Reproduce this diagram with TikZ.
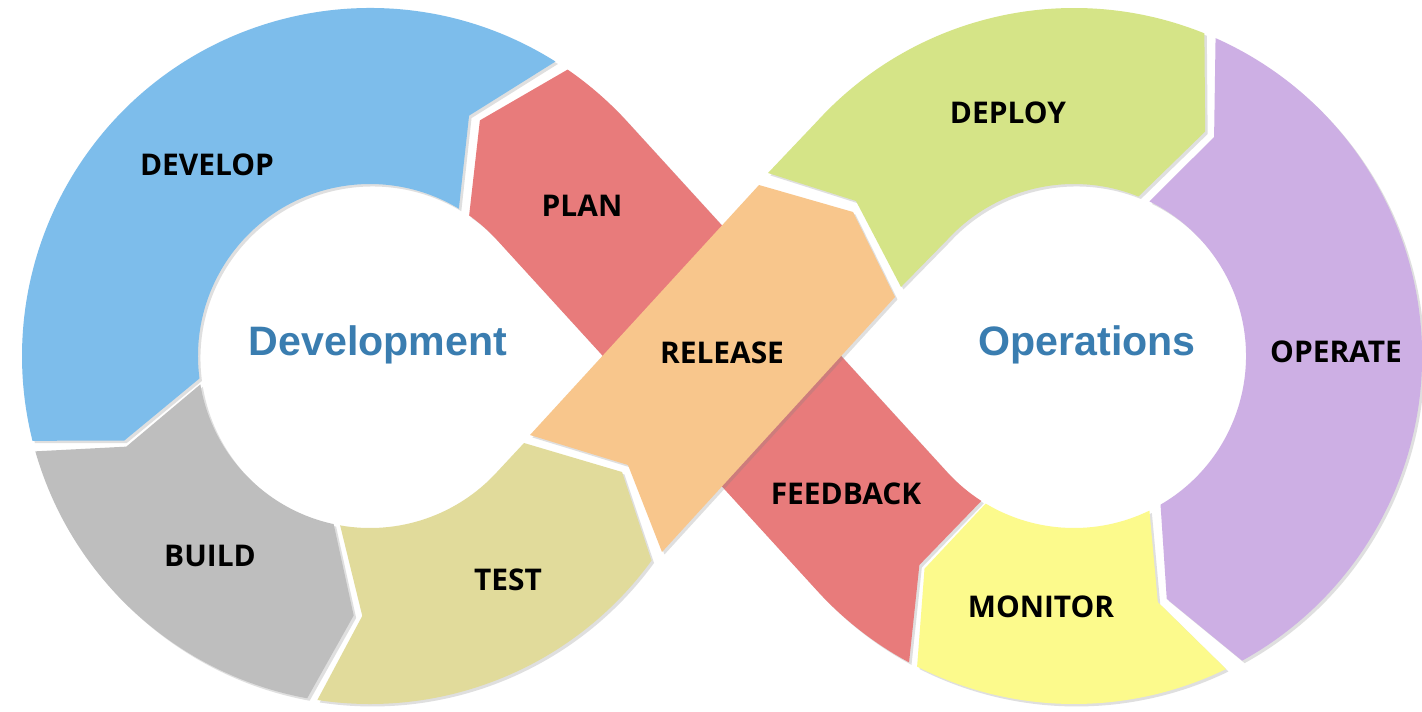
\documentclass[tikz,border=0pt]{standalone}
\usepackage{fontspec}
\setmainfont{Open Sans}
\newfontfamily\titlefont{Liberation Sans}
\usetikzlibrary{calc,shadows}
\definecolor{developblue}{RGB}{125,189,235}
\definecolor{planred}{RGB}{232,123,123}
\definecolor{releaseorange}{RGB}{248,198,140}
\definecolor{deploygreen}{RGB}{213,228,135}
\definecolor{operatepurple}{RGB}{205,175,228}
\definecolor{monitoryellow}{RGB}{252,250,140}
\definecolor{testkhaki}{RGB}{225,219,155}
\definecolor{buildgray}{RGB}{190,190,190}
\definecolor{ringtitle}{RGB}{58,125,176}
\newcommand\outR{348}
\newcommand\inR{172}
\newcommand\midR{260}

\begin{document}
\begin{tikzpicture}[x=0.01cm,y=0.01cm,
			part/.style={drop shadow={shadow xshift=0.7pt,shadow yshift=-0.7pt,opacity=0.25}},
			stage/.style={font=\bfseries\fontsize{8.5}{10}\selectfont,text=black},
			ring title/.style={font=\titlefont\bfseries\fontsize{11.7}{14}\selectfont,text=ringtitle}]
			
			\fill[white] (0,0) rectangle (1422,711);
			\useasboundingbox (0,0) rectangle (1422,711);
			\coordinate (C1) at (370,355);
			\coordinate (C2) at (1074,355);
			
			% left ring
			\fill[developblue,part] ($(C1)+(57.8:\outR)$) arc[start angle=57.8,end angle=194.1,radius=\outR]
			-- ($(C1)+(199:\midR)$) -- ($(C1)+(187.5:\inR)$) arc[start angle=187.5,end angle=58.9,radius=\inR]
			-- ($(C1)+(67.6:\midR)$) -- cycle;
			\fill[buildgray,part] ($(C1)+(195.9:\outR)$) arc[start angle=195.9,end angle=259.6,radius=\outR]
			-- ($(C1)+(266.4:\midR)$) -- ($(C1)+(257.8:\inR)$) arc[start angle=257.8,end angle=189.5,radius=\inR]
			-- ($(C1)+(200.4:\midR)$) -- cycle;
			\fill[testkhaki,part] ($(C1)+(261.3:\outR)$) arc[start angle=261.3,end angle=324,radius=\outR]
			-- (622,239) -- (524,268) -- ($(C1)+(317.61:\inR)$) arc[start angle=317.61,end angle=260,radius=\inR]
			-- ($(C1)+(268.3:\midR)$) -- cycle;
			
			% plan and feedback band
			\fill[planred,part] ($(C1)+(55.4:\outR)$) arc[start angle=55.4,end angle=42.39,radius=\outR]
			-- ($(C2)+(222.39:\inR)$) arc[start angle=222.39,end angle=237.4,radius=\inR]
			-- ($(C2)+(233.5:\midR)$) -- ($(C2)+(241.7:\outR)$) arc[start angle=241.7,end angle=222.39,radius=\outR]
			-- ($(C1)+(42.39:\inR)$) arc[start angle=42.39,end angle=54.8,radius=\inR]
			-- ($(C1)+(65:\midR)$) -- cycle;
			
			% release band
			\fill[releaseorange,part] (530,276) -- (759,526) -- (853,499) -- (895,414) -- (662,159) -- (628,246) -- cycle;
			
			% right ring
			\fill[deploygreen,part] (768,538) -- ($(C2)+(137.61:\outR)$) arc[start angle=137.61,end angle=68,radius=\outR]
			-- ($(C2)+(59.7:\midR)$) -- ($(C2)+(68:\inR)$) arc[start angle=68,end angle=137.61,radius=\inR]
			-- (901,424) -- (856,510) -- cycle;
			\fill[operatepurple,part] ($(C2)+(66:\outR)$) arc[start angle=66,end angle=-61.1,radius=\outR]
			-- ($(C2)+(-69.1:\midR)$) -- ($(C2)+(-59.8:\inR)$) arc[start angle=-59.8,end angle=64,radius=\inR]
			-- ($(C2)+(57.4:\midR)$) -- cycle;
			\fill[monitoryellow,part] ($(C2)+(-64.1:\outR)$) arc[start angle=-64.1,end angle=-116.8,radius=\outR]
			-- ($(C2)+(-125.1:\midR)$) -- ($(C2)+(-120.9:\inR)$) arc[start angle=-120.9,end angle=-64,radius=\inR]
			-- ($(C2)+(-71.2:\midR)$) -- cycle;
			
			\node (develop) [stage] at (207,546) {DEVELOP};
			\node (plan) [stage] at (582,505) {PLAN};
			\node (build) [stage] at (210,155) {BUILD};
			\node (test) [stage] at (508,131) {TEST};
			\node (release) [stage] at (722,358) {RELEASE};
			\node (feedback) [stage] at (846,217) {FEEDBACK};
			\node (deploy) [stage] at (1008,598) {DEPLOY};
			\node (operate) [stage] at (1336,359) {OPERATE};
			\node (monitor) [stage] at (1041,104) {MONITOR};
			\node (development) [ring title] at (378,366) {Development};
			\node (operations) [ring title] at (1087,366) {Operations};
\end{tikzpicture}
\end{document}
